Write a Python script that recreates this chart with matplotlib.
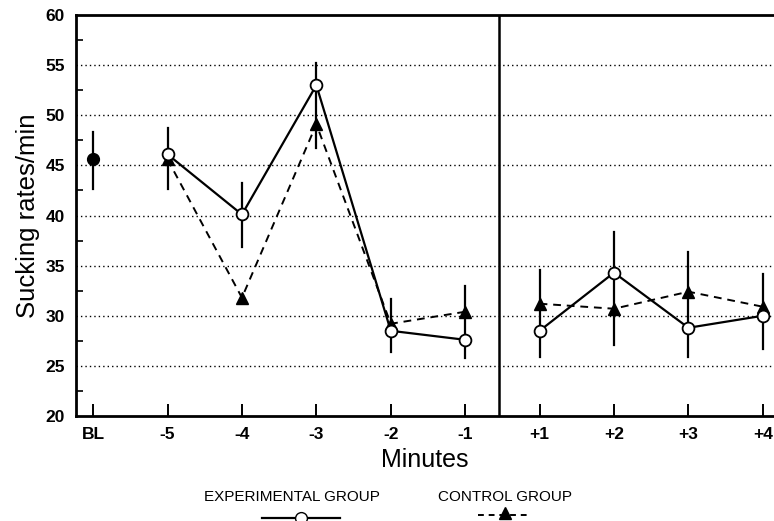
import matplotlib
matplotlib.use("Agg")
import matplotlib.pyplot as plt
import numpy as np

plt.rcParams['font.family'] = ['Liberation Sans', 'DejaVu Sans']

categories = ["BL", "-5", "-4", "-3", "-2", "-1", "+1", "+2", "+3", "+4"]
experimental = [45.6, 46.1, 40.1, 53.0, 28.5, 27.6, 28.5, 34.3, 28.8, 30.0]
control = [45.6, 45.6, 31.8, 49.1, 29.2, 30.4, 31.2, 30.7, 32.4, 30.9]
err_low = [42.6, 42.6, 36.9, 46.7, 26.4, 25.8, 25.9, 27.1, 25.9, 26.7]
err_high = [48.3, 48.7, 43.2, 55.2, 31.7, 33.0, 34.6, 38.4, 36.4, 34.2]
yticks = [20, 25, 30, 35, 40, 45, 50, 55, 60]

x = np.arange(len(categories))
fig = plt.figure(figsize=(7.74, 5.21), dpi=100)
ax = fig.add_axes([76/774, 1-416/521, 1-76/774, (416-15)/521])

# grid
for yv in yticks[1:-1]:
    ax.axhline(yv, color='black', lw=1.0, ls=(0, (1, 2.2)), zorder=1)

# error bars
for xi, lo, hi in zip(x, err_low, err_high):
    ax.plot([xi, xi], [lo, hi], color='black', lw=1.6, zorder=2)

# series segments
pre = slice(1, 6)
post = slice(6, 10)
for s in (pre, post):
    ax.plot(x[s], np.array(control)[s], color='black', lw=1.4, ls=(0, (4, 3)),
            marker='^', ms=8.5, mfc='black', mec='black', zorder=3)
    ax.plot(x[s], np.array(experimental)[s], color='black', lw=1.6, ls='-',
            marker='o', ms=8.5, mfc='white', mec='black', mew=1.3, zorder=4)
# baseline point
ax.plot(x[0], control[0], marker='o', ms=8.5, mfc='black', mec='black', zorder=4)

ax.axvline(5.46, color='black', lw=1.8, zorder=5)

ax.set_xlim(-0.23, 9.15)
ax.set_ylim(20, 60)
ax.set_xticks(x)
ax.set_xticklabels(categories, fontsize=12.5, fontweight='bold')
ax.set_yticks(yticks)
ax.set_yticklabels([str(v) for v in yticks], fontsize=12.5, fontweight='bold')
ax.set_yticks(np.arange(22.5, 60, 5), minor=True)
ax.tick_params(axis='x', direction='in', length=9, width=1.4, pad=8)
ax.tick_params(axis='y', which='major', direction='in', length=0, pad=8)
ax.tick_params(axis='y', which='minor', direction='in', length=5, width=1.2)
for sp in ('left', 'bottom', 'top'):
    ax.spines[sp].set_linewidth(2.0)
ax.spines['right'].set_visible(False)

ax.set_ylabel("Sucking rates/min", fontsize=18.5, labelpad=4)
ax.set_xlabel("Minutes", fontsize=18, labelpad=4)

# legend
fig.text(292/774, 1-497/521, "EXPERIMENTAL GROUP", fontsize=11, ha='center', va='center')
fig.text(505/774, 1-497/521, "CONTROL GROUP", fontsize=11, ha='center', va='center')
fig.add_artist(plt.Line2D([262/774, 340/774], [1-518/521]*2, color='black', lw=1.6))
fig.add_artist(plt.Line2D([301/774], [1-518/521], marker='o', ms=8.5, mfc='white', mec='black', color='black'))
fig.add_artist(plt.Line2D([478/774, 530/774], [1-515/521]*2, color='black', lw=1.4, ls=(0, (3, 2.5))))
fig.add_artist(plt.Line2D([505/774], [1-513/521], marker='^', ms=8.5, mfc='black', mec='black', color='black'))

fig.savefig("out.png", dpi=100)
